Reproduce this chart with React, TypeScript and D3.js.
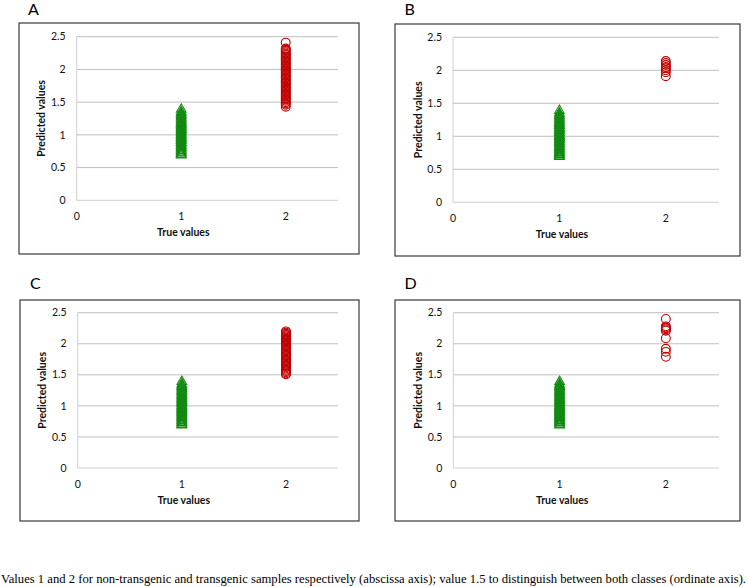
import React from "react";
import * as d3 from "d3";

// non-transgenic samples (true value 1), the same column in every panel
const nonTransgenic = [
  0.69, 0.7, 0.72, 0.73, 0.75, 0.76, 0.78, 0.8, 0.81, 0.83, 0.84, 0.86, 0.88, 0.89, 0.91, 0.92,
  0.94, 0.95, 0.97, 0.98, 1.0, 1.01, 1.03, 1.05, 1.06, 1.08, 1.09, 1.11, 1.12, 1.14, 1.16, 1.17,
  1.19, 1.21, 1.23, 1.25, 1.27, 1.29, 1.31, 1.33, 1.35, 1.39,
];

// transgenic samples (true value 2)
const transgenicA = [
  2.41, 2.32, 2.3, 2.28, 2.26, 2.24, 2.22, 2.2, 2.18, 2.16, 2.14, 2.12, 2.1, 2.08, 2.06, 2.04,
  2.02, 2.0, 1.98, 1.96, 1.94, 1.92, 1.9, 1.88, 1.86, 1.84, 1.82, 1.8, 1.78, 1.76, 1.74, 1.72,
  1.7, 1.68, 1.66, 1.64, 1.62, 1.6, 1.58, 1.56, 1.54, 1.52, 1.5, 1.48, 1.46, 1.43,
];
const transgenicB = [2.14, 2.11, 2.08, 2.05, 2.03, 2.0, 1.97, 1.91];
const transgenicC = [
  2.2, 2.18, 2.16, 2.14, 2.12, 2.1, 2.08, 2.06, 2.04, 2.02, 2.0, 1.98, 1.96, 1.94, 1.92, 1.9,
  1.88, 1.86, 1.84, 1.82, 1.8, 1.78, 1.76, 1.74, 1.72, 1.7, 1.68, 1.66, 1.64, 1.62, 1.6, 1.58,
  1.56, 1.54, 1.52, 1.51,
];
const transgenicD = [2.4, 2.28, 2.26, 2.25, 2.23, 2.21, 2.09, 1.92, 1.87, 1.79];

const panelLabels = ["A", "B", "C", "D"];
const panelSeries = [transgenicA, transgenicB, transgenicC, transgenicD];

const xTicks = [0, 1, 2];
const yTicks = [0, 0.5, 1, 1.5, 2, 2.5];

const caption =
  "Values 1 and 2 for non-transgenic and transgenic samples respectively (abscissa axis); value 1.5 to distinguish between both classes (ordinate axis).";

// layout of each panel: outer frame + plot area (pixels)
const layouts = [
  { fx: 19, fy: 23, fw: 340, fh: 231, left: 76.7, right: 338, top: 36.7, bottom: 200.3, lx: 28, ly: 15 },
  { fx: 395, fy: 24, fw: 345, fh: 232, left: 453, right: 719, top: 37.3, bottom: 202.3, lx: 404.5, ly: 15 },
  { fx: 20, fy: 300, fw: 339, fh: 221, left: 77.7, right: 338, top: 312.7, bottom: 468, lx: 30, ly: 289 },
  { fx: 395, fy: 300, fw: 345, fh: 221, left: 453.3, right: 719, top: 312.7, bottom: 468, lx: 404.5, ly: 289 },
];

const font = "Lato, 'Open Sans', sans-serif";
const green = "#128a12";
const red = "#c00000";

type Layout = (typeof layouts)[number];

function Panel({ label, red2, lay }: { label: string; red2: number[]; lay: Layout }) {
  const x = d3.scaleLinear().domain([0, 2.5]).range([lay.left, lay.right]);
  const y = d3.scaleLinear().domain([0, 2.5]).range([lay.bottom, lay.top]);
  const tri = d3.symbol().type(d3.symbolTriangle).size(40)() as string;
  const midY = (lay.top + lay.bottom) / 2;
  const midX = (lay.left + lay.right) / 2;

  return (
    <g>
      <text x={lay.lx} y={lay.ly} fontFamily={font} fontSize={16} fill="#000">
        {label}
      </text>
      <rect x={lay.fx} y={lay.fy} width={lay.fw} height={lay.fh} fill="#fff" stroke="#3a3a3a" strokeWidth={1.2} />
      {/* grid */}
      {yTicks.map((t) => (
        <line
          key={t}
          x1={x(0)}
          x2={x(2.5)}
          y1={y(t)}
          y2={y(t)}
          stroke={t === 0 ? "#d0d0d0" : "#bfbfbf"}
          strokeWidth={1}
        />
      ))}
      <line x1={x(0)} x2={x(0)} y1={y(0)} y2={y(2.5)} stroke="#d0d0d0" strokeWidth={1} />
      {/* tick labels */}
      {yTicks.map((t) => (
        <text
          key={t}
          x={lay.left - 11}
          y={y(t)}
          dy="0.35em"
          textAnchor="end"
          fontFamily={font}
          fontSize={10.5}
          fill="#111"
        >
          {t}
        </text>
      ))}
      {xTicks.map((t) => (
        <text
          key={t}
          x={x(t)}
          y={lay.bottom + 16}
          dy="0.35em"
          textAnchor="middle"
          fontFamily={font}
          fontSize={10.5}
          fill="#111"
        >
          {t}
        </text>
      ))}
      <text
        x={midX - 24}
        y={lay.bottom + 32.5}
        dy="0.35em"
        textAnchor="middle"
        fontFamily={font}
        fontSize={10.5}
        fontWeight="bold"
        fill="#111"
      >
        True values
      </text>
      <text
        transform={`translate(${lay.left - 35},${midY}) rotate(-90)`}
        dy="0.35em"
        textAnchor="middle"
        fontFamily={font}
        fontSize={10.5}
        fontWeight="bold"
        fill="#111"
      >
        Predicted values
      </text>
      {/* non-transgenic: open triangles */}
      {nonTransgenic.map((v, i) => (
        <path
          key={"g" + i}
          d={tri}
          transform={`translate(${x(1)},${y(v)})`}
          fill="none"
          stroke={green}
          strokeWidth={1.1}
        />
      ))}
      {/* transgenic: open circles */}
      {red2.map((v, i) => (
        <circle key={"r" + i} cx={x(2)} cy={y(v)} r={4.4} fill="none" stroke={red} strokeWidth={1.1} />
      ))}
    </g>
  );
}

export default function App() {
  return (
    <svg
      width={748}
      height={587}
      style={{ position: "absolute", left: 0, top: 0, background: "#fff" }}
    >
      <rect width={748} height={587} fill="#fff" />
      {panelLabels.map((l, i) => (
        <Panel key={l} label={l} red2={panelSeries[i]} lay={layouts[i]} />
      ))}
      <text
        x={1}
        y={579}
        dy="0.35em"
        fontFamily="'Liberation Serif', 'Times New Roman', serif"
        fontSize={12}
        textLength={745}
        lengthAdjust="spacingAndGlyphs"
        fill="#000"
      >
        {caption}
      </text>
    </svg>
  );
}
